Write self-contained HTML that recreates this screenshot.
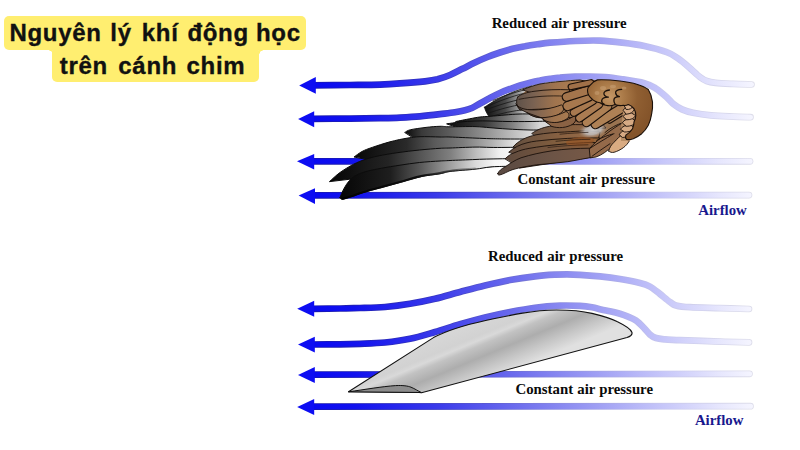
<!DOCTYPE html>
<html>
<head>
<meta charset="utf-8">
<style>
html,body{margin:0;padding:0;background:#fff;}
body{width:800px;height:450px;overflow:hidden;position:relative;font-family:"Liberation Sans",sans-serif;}
svg{position:absolute;left:0;top:0;}
.ybox{position:absolute;background:#ffee70;border-radius:5px;}
.ic{position:absolute;width:3.5px;height:3.5px;}
.w{position:absolute;letter-spacing:0.7px;-webkit-text-stroke:0.35px #111;font-family:"Liberation Sans",sans-serif;font-weight:bold;font-size:24px;line-height:24px;color:#111;white-space:nowrap;}
.lbl{position:absolute;font-family:"Liberation Serif",serif;font-weight:bold;font-size:14.8px;line-height:15px;color:#0a0a0a;white-space:nowrap;word-spacing:0.5px;}
.af{color:#18188e;}
</style>
</head>
<body>
<!-- title boxes -->
<div class="ybox" style="left:4px;top:16px;width:302px;height:34px;"></div>
<div class="ybox" style="left:52px;top:46px;width:207px;height:36px;"></div>
<div class="ic" style="left:48.5px;top:50px;background:radial-gradient(circle at 0 100%,rgba(255,238,112,0) 3.2px,#ffee70 3.8px);"></div>
<div class="ic" style="left:259px;top:50px;background:radial-gradient(circle at 100% 100%,rgba(255,238,112,0) 3.2px,#ffee70 3.8px);"></div>
<span class="w" style="left:9.4px;top:20.8px;">Nguyên</span>
<span class="w" style="left:110.3px;top:20.8px;">lý</span>
<span class="w" style="left:141.8px;top:20.8px;">khí</span>
<span class="w" style="left:187.4px;top:20.8px;">động</span>
<span class="w" style="left:256px;top:20.8px;">học</span>
<span class="w" style="left:59.7px;top:53.5px;">trên</span>
<span class="w" style="left:118.3px;top:53.5px;">cánh</span>
<span class="w" style="left:186.5px;top:53.5px;">chim</span>

<svg width="800" height="450" viewBox="0 0 800 450">
<defs>
<linearGradient id="flow" gradientUnits="userSpaceOnUse" x1="300" y1="0" x2="755" y2="0">
<stop offset="0" stop-color="#0606f2"/>
<stop offset="0.12" stop-color="#1212ee"/>
<stop offset="0.3" stop-color="#3a3aea"/>
<stop offset="0.5" stop-color="#7474ee"/>
<stop offset="0.75" stop-color="#babaf8"/>
<stop offset="0.92" stop-color="#e6e6fd"/>
<stop offset="1" stop-color="#f6f6ff"/>
</linearGradient>
<linearGradient id="flowEdge" gradientUnits="userSpaceOnUse" x1="300" y1="0" x2="755" y2="0">
<stop offset="0" stop-color="#1414a8"/>
<stop offset="0.3" stop-color="#3636c0"/>
<stop offset="0.55" stop-color="#8686dc"/>
<stop offset="0.8" stop-color="#c8c8ee"/>
<stop offset="1" stop-color="#dedeea"/>
</linearGradient>
<linearGradient id="foil" gradientUnits="userSpaceOnUse" x1="470" y1="318" x2="495" y2="378">
<stop offset="0" stop-color="#d8d8d8"/>
<stop offset="0.3" stop-color="#d2d2d2"/>
<stop offset="0.37" stop-color="#d9d9d9"/>
<stop offset="0.45" stop-color="#c2c2c2"/>
<stop offset="0.62" stop-color="#adadad"/>
<stop offset="0.8" stop-color="#c6c6c6"/>
<stop offset="1" stop-color="#e0e0e0"/>
</linearGradient>
<!--WDEFS-START-->
<linearGradient id="gA" gradientUnits="userSpaceOnUse" x1="340" y1="0" x2="520" y2="0">
<stop offset="0" stop-color="#060606"/><stop offset="0.28" stop-color="#1e1e1e"/><stop offset="0.44" stop-color="#565656"/><stop offset="0.6" stop-color="#9a9a9a"/><stop offset="0.75" stop-color="#d8d8d8"/><stop offset="0.86" stop-color="#f6f6f6"/><stop offset="1" stop-color="#ffffff"/>
</linearGradient>
<linearGradient id="gB" gradientUnits="userSpaceOnUse" x1="330" y1="0" x2="525" y2="0">
<stop offset="0" stop-color="#050505"/><stop offset="0.3" stop-color="#242424"/><stop offset="0.46" stop-color="#545454"/><stop offset="0.62" stop-color="#808080"/><stop offset="0.75" stop-color="#bdbdbd"/><stop offset="0.87" stop-color="#f0f0f0"/><stop offset="1" stop-color="#ffffff"/>
</linearGradient>
<linearGradient id="gC" gradientUnits="userSpaceOnUse" x1="354" y1="0" x2="530" y2="0">
<stop offset="0" stop-color="#070707"/><stop offset="0.3" stop-color="#2a2a2a"/><stop offset="0.45" stop-color="#585858"/><stop offset="0.62" stop-color="#7c7c7c"/><stop offset="0.78" stop-color="#b0b0b0"/><stop offset="0.92" stop-color="#e6e6e6"/><stop offset="1" stop-color="#f8f8f8"/>
</linearGradient>
<linearGradient id="gD" gradientUnits="userSpaceOnUse" x1="405" y1="0" x2="545" y2="0">
<stop offset="0" stop-color="#0a0a0a"/><stop offset="0.12" stop-color="#3a3a3a"/><stop offset="0.3" stop-color="#585858"/><stop offset="0.55" stop-color="#8c8c8c"/><stop offset="0.8" stop-color="#c4c4c4"/><stop offset="1" stop-color="#f0f0f0"/>
</linearGradient>
<linearGradient id="gE" gradientUnits="userSpaceOnUse" x1="447" y1="0" x2="540" y2="0">
<stop offset="0" stop-color="#0a0a0a"/><stop offset="0.4" stop-color="#3a3a3a"/><stop offset="0.7" stop-color="#808080"/><stop offset="1" stop-color="#d8d8d8"/>
</linearGradient>
<linearGradient id="gU" gradientUnits="userSpaceOnUse" x1="485" y1="0" x2="530" y2="0">
<stop offset="0" stop-color="#101010"/><stop offset="0.45" stop-color="#484848"/><stop offset="0.75" stop-color="#9a9a9a"/><stop offset="1" stop-color="#ececec"/>
</linearGradient>
<linearGradient id="gS1" gradientUnits="userSpaceOnUse" x1="498" y1="0" x2="604" y2="0">
<stop offset="0" stop-color="#5a4a42"/><stop offset="0.5" stop-color="#6c5446"/><stop offset="1" stop-color="#7a5a46"/>
</linearGradient>
<linearGradient id="gS2" gradientUnits="userSpaceOnUse" x1="505" y1="0" x2="612" y2="0">
<stop offset="0" stop-color="#5e4a3e"/><stop offset="0.5" stop-color="#7a583e"/><stop offset="1" stop-color="#8c5c38"/>
</linearGradient>
<linearGradient id="gS3" gradientUnits="userSpaceOnUse" x1="511" y1="0" x2="612" y2="0">
<stop offset="0" stop-color="#624c3e"/><stop offset="0.5" stop-color="#85603e"/><stop offset="1" stop-color="#9a6536"/>
</linearGradient>
<linearGradient id="gS4" gradientUnits="userSpaceOnUse" x1="515" y1="0" x2="612" y2="0">
<stop offset="0" stop-color="#65503f"/><stop offset="0.5" stop-color="#8a6242"/><stop offset="1" stop-color="#a0724c"/>
</linearGradient>
<linearGradient id="gS5" gradientUnits="userSpaceOnUse" x1="531" y1="0" x2="612" y2="0">
<stop offset="0" stop-color="#6a5444"/><stop offset="0.5" stop-color="#876040"/><stop offset="1" stop-color="#9a7050"/>
</linearGradient>
<linearGradient id="gC1" gradientUnits="userSpaceOnUse" x1="515" y1="0" x2="568" y2="0">
<stop offset="0" stop-color="#5c5048"/><stop offset="0.35" stop-color="#7a6252"/><stop offset="0.75" stop-color="#a0744e"/><stop offset="1" stop-color="#a87a50"/>
</linearGradient>
<radialGradient id="gSh" gradientUnits="userSpaceOnUse" cx="610" cy="97" r="44">
<stop offset="0" stop-color="#c59766"/><stop offset="0.3" stop-color="#ab7b49"/><stop offset="0.62" stop-color="#905f32"/><stop offset="1" stop-color="#84542a"/>
</radialGradient>
<linearGradient id="gEdge" gradientUnits="userSpaceOnUse" x1="340" y1="0" x2="480" y2="0">
<stop offset="0" stop-color="#000"/><stop offset="0.6" stop-color="#111"/><stop offset="1" stop-color="#444" stop-opacity="0.3"/>
</linearGradient>
<radialGradient id="gPatch" cx="0.5" cy="0.5" r="0.5">
<stop offset="0" stop-color="#d0d0d2" stop-opacity="0.95"/><stop offset="0.55" stop-color="#c0bebe" stop-opacity="0.85"/><stop offset="1" stop-color="#a08876" stop-opacity="0"/>
</radialGradient>
<!--WDEFS-END-->
</defs>
<!-- TOP DIAGRAM LINES -->
<g fill="none" stroke="url(#flowEdge)" stroke-width="6.7" stroke-linecap="round">
<path id="t1" d="M312.0,85.3 C318.3,85.2 338.7,85.1 350.0,85.0 C361.3,84.9 371.7,84.9 380.0,84.6 C388.3,84.3 392.5,84.0 400.0,83.4 C407.5,82.9 418.8,82.0 425.0,81.3 C431.2,80.6 433.3,80.3 437.5,79.3 C441.7,78.2 445.8,76.8 450.0,75.0 C454.2,73.2 458.3,70.9 462.5,68.8 C466.7,66.7 470.8,64.5 475.0,62.5 C479.2,60.5 483.3,58.7 487.5,57.0 C491.7,55.3 495.8,53.9 500.0,52.5 C504.2,51.1 508.3,49.8 512.5,48.8 C516.7,47.8 520.8,47.0 525.0,46.3 C529.2,45.5 533.3,44.9 537.5,44.3 C541.7,43.7 543.8,43.2 550.0,42.7 C556.2,42.2 566.7,41.4 575.0,41.0 C583.3,40.6 592.2,40.3 600.0,40.6 C607.8,40.9 614.6,41.7 622.0,42.6 C629.4,43.5 636.9,44.4 644.4,46.0 C651.9,47.6 661.1,50.1 666.7,52.1 C672.3,54.1 674.1,55.8 677.8,58.3 C681.5,60.8 685.2,64.0 688.9,67.2 C692.6,70.4 697.0,74.9 700.0,77.2 C703.0,79.5 704.1,80.1 706.7,81.0 C709.3,81.9 711.2,82.3 715.6,82.8 C720.0,83.3 727.0,83.6 733.0,83.9 C739.0,84.2 748.4,84.4 751.5,84.5"/>
<path id="t2" d="M312.0,118.8 C318.3,118.8 338.7,118.7 350.0,118.6 C361.3,118.5 371.7,118.4 380.0,118.2 C388.3,118.0 393.3,117.9 400.0,117.6 C406.7,117.3 413.3,117.0 420.0,116.4 C426.7,115.8 434.2,114.9 440.0,114.2 C445.8,113.5 450.8,113.0 455.0,112.3 C459.2,111.6 462.2,111.0 465.0,110.3 C467.8,109.6 469.5,109.1 472.0,108.0 C474.5,106.9 477.0,105.2 480.0,103.5 C483.0,101.8 486.7,99.8 490.0,98.0 C493.3,96.2 496.7,94.5 500.0,93.0 C503.3,91.5 506.7,90.2 510.0,89.0 C513.3,87.8 516.7,86.5 520.0,85.5 C523.3,84.5 526.7,83.5 530.0,82.7 C533.3,81.9 536.7,81.2 540.0,80.6 C543.3,79.9 546.7,79.3 550.0,78.8 C553.3,78.3 555.8,77.9 560.0,77.6 C564.2,77.2 570.0,76.9 575.0,76.7 C580.0,76.5 585.0,76.5 590.0,76.5 C595.0,76.5 599.7,76.5 605.0,77.0 C610.3,77.5 615.4,78.2 622.0,79.2 C628.6,80.2 638.8,81.7 644.4,83.2 C650.0,84.7 651.9,86.0 655.6,88.3 C659.3,90.6 663.8,94.6 666.7,97.2 C669.7,99.8 670.8,101.9 673.3,103.9 C675.8,105.9 678.7,107.9 682.0,109.4 C685.3,110.9 688.2,111.8 693.0,112.8 C697.8,113.8 704.3,114.8 711.0,115.4 C717.7,116.0 726.4,116.3 733.0,116.6 C739.6,116.9 747.6,117.1 750.5,117.2"/>
<path id="t3" d="M312.0,161.3 L750.0,161.3"/>
<path id="t4" d="M312.0,195.3 L749.0,195.1"/>
</g>
<g fill="none" stroke="url(#flow)" stroke-width="5.1" stroke-linecap="round">
<path d="M312.0,85.3 C318.3,85.2 338.7,85.1 350.0,85.0 C361.3,84.9 371.7,84.9 380.0,84.6 C388.3,84.3 392.5,84.0 400.0,83.4 C407.5,82.9 418.8,82.0 425.0,81.3 C431.2,80.6 433.3,80.3 437.5,79.3 C441.7,78.2 445.8,76.8 450.0,75.0 C454.2,73.2 458.3,70.9 462.5,68.8 C466.7,66.7 470.8,64.5 475.0,62.5 C479.2,60.5 483.3,58.7 487.5,57.0 C491.7,55.3 495.8,53.9 500.0,52.5 C504.2,51.1 508.3,49.8 512.5,48.8 C516.7,47.8 520.8,47.0 525.0,46.3 C529.2,45.5 533.3,44.9 537.5,44.3 C541.7,43.7 543.8,43.2 550.0,42.7 C556.2,42.2 566.7,41.4 575.0,41.0 C583.3,40.6 592.2,40.3 600.0,40.6 C607.8,40.9 614.6,41.7 622.0,42.6 C629.4,43.5 636.9,44.4 644.4,46.0 C651.9,47.6 661.1,50.1 666.7,52.1 C672.3,54.1 674.1,55.8 677.8,58.3 C681.5,60.8 685.2,64.0 688.9,67.2 C692.6,70.4 697.0,74.9 700.0,77.2 C703.0,79.5 704.1,80.1 706.7,81.0 C709.3,81.9 711.2,82.3 715.6,82.8 C720.0,83.3 727.0,83.6 733.0,83.9 C739.0,84.2 748.4,84.4 751.5,84.5"/>
<path d="M312.0,118.8 C318.3,118.8 338.7,118.7 350.0,118.6 C361.3,118.5 371.7,118.4 380.0,118.2 C388.3,118.0 393.3,117.9 400.0,117.6 C406.7,117.3 413.3,117.0 420.0,116.4 C426.7,115.8 434.2,114.9 440.0,114.2 C445.8,113.5 450.8,113.0 455.0,112.3 C459.2,111.6 462.2,111.0 465.0,110.3 C467.8,109.6 469.5,109.1 472.0,108.0 C474.5,106.9 477.0,105.2 480.0,103.5 C483.0,101.8 486.7,99.8 490.0,98.0 C493.3,96.2 496.7,94.5 500.0,93.0 C503.3,91.5 506.7,90.2 510.0,89.0 C513.3,87.8 516.7,86.5 520.0,85.5 C523.3,84.5 526.7,83.5 530.0,82.7 C533.3,81.9 536.7,81.2 540.0,80.6 C543.3,79.9 546.7,79.3 550.0,78.8 C553.3,78.3 555.8,77.9 560.0,77.6 C564.2,77.2 570.0,76.9 575.0,76.7 C580.0,76.5 585.0,76.5 590.0,76.5 C595.0,76.5 599.7,76.5 605.0,77.0 C610.3,77.5 615.4,78.2 622.0,79.2 C628.6,80.2 638.8,81.7 644.4,83.2 C650.0,84.7 651.9,86.0 655.6,88.3 C659.3,90.6 663.8,94.6 666.7,97.2 C669.7,99.8 670.8,101.9 673.3,103.9 C675.8,105.9 678.7,107.9 682.0,109.4 C685.3,110.9 688.2,111.8 693.0,112.8 C697.8,113.8 704.3,114.8 711.0,115.4 C717.7,116.0 726.4,116.3 733.0,116.6 C739.6,116.9 747.6,117.1 750.5,117.2"/>
<path d="M312.0,161.3 L750.0,161.3"/>
<path d="M312.0,195.3 L749.0,195.1"/>
</g>
<g fill="#0d0df2">
<path d="M299.2,85.4 L315.8,77 L315.8,93.8 Z"/>
<path d="M298.1,119 L314.2,111.2 L314.2,127.2 Z"/>
<path d="M297,161.3 L314.2,153.9 L314.2,169.6 Z"/>
<path d="M298.6,195.5 L315,188.3 L315,204 Z"/>
</g>

<!--WING-START-->
<!-- BIRD WING -->
<g id="wing" stroke-linejoin="round" stroke-linecap="round">
<!-- small upper gray feathers -->
<g stroke="#151515" stroke-width="0.8">
<path d="M484.5,107.2 C489,104 495,100.5 500,98 C507,94.5 514,91.5 520,89.6 C524,88.3 528,87 532,86 L545,100 L530,122 L490,118 C487,114 485,110 484.5,107.2 Z" fill="url(#gU)"/>
<path d="M487,109.5 C497,105.5 510,101.5 524,98.5" fill="none"/>
<path d="M488.5,113 C499,109.5 511,106 524,104" fill="none"/>
<path d="M491,116.5 C501,113.5 513,110.5 526,109.5" fill="none"/>
<path d="M489.5,105.5 C499,101 510,97 525,93" fill="none"/>
<path d="M493,100.5 C502,96.5 512,93 526,89.5" fill="none"/>
</g>
<!-- primary feathers: E F D C B A -->
<g stroke="#0c0c0c" stroke-width="1">
<path d="M456.0,121.5 C458.3,121.0 465.7,119.5 469.7,118.8 C473.7,118.0 476.6,117.4 480.0,117.0 C483.4,116.6 485.8,116.6 490.0,116.3 C494.2,116.0 500.0,115.4 505.0,115.0 C510.0,114.6 514.2,114.2 520.0,114.0 C525.8,113.8 536.7,114.0 540.0,114.0 L548,118 L548,128 L470,128 Z" fill="url(#gE)"/>
<path d="M447.0,123.8 C449.2,123.5 455.3,122.5 460.0,122.0 C464.7,121.5 470.0,121.2 475.0,121.0 C480.0,120.8 484.7,120.9 490.0,121.0 C495.3,121.1 500.3,121.4 507.0,121.5 C513.7,121.6 522.5,121.6 530.0,121.5 C537.5,121.4 548.3,121.1 552.0,121.0 L552,130 L470,132 Z" fill="url(#gE)"/>
<path d="M405.0,132.3 C405.9,131.9 407.1,130.5 410.6,129.7 C414.1,128.9 421.1,128.0 426.0,127.4 C430.9,126.8 436.0,126.4 440.0,126.3 C444.0,126.2 444.2,126.8 450.0,126.8 C455.8,126.8 468.3,126.4 475.0,126.6 C481.7,126.8 484.7,127.3 490.0,127.7 C495.3,128.1 500.3,128.6 507.0,129.0 C513.7,129.4 521.8,129.8 530.0,130.0 C538.2,130.2 551.7,130.0 556.0,130.0 L556,142 L420,142 Z" fill="url(#gD)"/>
<path d="M354.3,156.8 C355.6,155.9 359.0,153.1 362.0,151.5 C365.0,149.9 367.5,149.0 372.2,147.4 C376.9,145.8 384.0,143.4 390.0,141.8 C396.0,140.2 403.0,138.8 408.0,138.0 C413.0,137.2 414.7,136.9 420.0,136.7 C425.3,136.5 435.0,136.9 440.0,137.0 C445.0,137.1 444.2,136.8 450.0,137.0 C455.8,137.2 468.3,137.8 475.0,138.1 C481.7,138.4 484.7,138.5 490.0,138.7 C495.3,138.8 498.7,138.9 507.0,139.0 C515.3,139.1 534.5,139.0 540.0,139.0 L545,152 L370,160 Z" fill="url(#gC)"/>
<path d="M329.7,181.4 C331.4,179.9 336.1,175.3 340.0,172.5 C343.9,169.7 349.1,166.6 353.3,164.4 C357.5,162.2 360.9,160.9 365.0,159.5 C369.1,158.1 372.5,157.2 378.0,156.0 C383.5,154.8 391.1,153.6 398.0,152.6 C404.9,151.6 412.5,150.7 419.5,150.0 C426.5,149.3 434.9,148.6 440.0,148.3 C445.1,148.0 444.2,148.2 450.0,148.0 C455.8,147.8 468.3,147.2 475.0,147.1 C481.7,147.0 484.7,147.3 490.0,147.4 C495.3,147.5 499.5,147.5 507.0,147.4 C514.5,147.3 530.3,147.1 535.0,147.0 L545,162 L360,178 Z" fill="url(#gB)"/>
<path d="M340.0,197.6 C340.7,196.1 342.4,191.3 344.0,188.5 C345.6,185.7 347.3,182.8 349.5,180.5 C351.7,178.2 353.9,176.4 357.0,174.8 C360.1,173.2 363.9,172.1 368.0,171.0 C372.1,169.9 376.4,169.2 381.7,168.2 C387.0,167.2 393.7,166.1 400.0,165.2 C406.3,164.2 412.8,163.2 419.5,162.5 C426.2,161.8 434.9,161.3 440.0,161.0 C445.1,160.7 444.2,160.8 450.0,160.5 C455.8,160.2 468.3,159.8 475.0,159.5 C481.7,159.2 484.7,159.1 490.0,159.0 C495.3,158.9 500.3,158.8 507.0,158.7 C513.7,158.6 526.2,158.5 530.0,158.5 L520,166 L507,166.3 C504.2,166.4 495.3,166.5 490.0,167.0 C484.7,167.5 481.7,168.5 475.0,169.2 C468.3,169.9 455.8,170.7 450.0,171.4 C444.2,172.2 445.0,172.8 440.0,173.7 C435.0,174.6 426.6,175.4 420.0,176.8 C413.4,178.2 407.1,180.5 400.6,182.3 C394.1,184.1 387.3,185.9 381.0,187.6 C374.7,189.3 367.6,191.2 362.8,192.7 C358.0,194.2 355.4,195.4 352.0,196.5 C348.6,197.6 344.5,199.1 342.5,199.3 C340.5,199.5 340.4,197.9 340.0,197.6 Z" fill="url(#gA)"/>
<path d="M342.5,198.7 C344.1,198.2 348.6,197.1 352.0,196.0 C355.4,194.9 358.0,193.7 362.8,192.2 C367.6,190.7 374.7,188.8 381.0,187.1 C387.3,185.4 394.1,183.6 400.6,181.8 C407.1,180.0 413.4,177.7 420.0,176.3 C426.6,174.9 435.0,174.1 440.0,173.2 C445.0,172.3 444.2,171.8 450.0,171.0 C455.8,170.2 470.8,169.1 475.0,168.7" fill="none" stroke="url(#gEdge)" stroke-width="2.2"/>
</g>
</g>
<!-- BROWN PARTS -->
<g id="brown" stroke-linejoin="round" stroke-linecap="round">
<!-- base fill behind coverts -->
<path d="M530,87 C542,83.5 556,82 569,81 C580,80.3 590,80 598,80 L636,100 L626,134 L606,134 L590,148 L575,150 L552,126 L545,117 L530,112 L520,104 L520,96 Z" fill="#9a7350" stroke="none"/>
<!-- secondaries S6..S1 -->
<g stroke="#1a100a" stroke-width="0.9">
<path d="M549.8,122.7 C553,119.5 558,117.8 563,117.5 C575,117 588,118 600,121 L606,128 L560,132 Z" fill="#8f684a"/>
<path d="M532,133.3 C538,129 545,126.8 552,126 C560,125 568,124.6 575.6,124.6 C585,124.6 592,125 598,126 L598,140 L545,142 Z" fill="url(#gS5)"/>
<path d="M513.3,146.7 C518,141 526,137 536,134.8 C546,133 555,132.4 564.7,132 C572,131.6 580,131 586.5,130.7 L600,132 L596,150 L530,150 Z" fill="url(#gS4)"/>
<path d="M509,152 C514,147.5 520,144.5 527,142.8 C530,142 533,141.4 536.7,141 C547,139.8 557,139 567.8,138.4 C575,138 583,137.8 589,137.8 L600,138 L594,155 L525,158 Z" fill="url(#gS3)"/>
<path d="M505.3,158.6 C509,155 512,153.5 515,152.5 C520,150.3 524,149.3 529,148.4 C539,146.6 549,145.4 560,144.4 C570,143.5 580,142.8 592.4,142.3 L598,143 L592,157 L520,168 Z" fill="url(#gS2)"/>
<path d="M497.8,173.4 C499,170.5 502,168.5 505,167 C510,163.5 515,160 521,157.8 C531,154.6 541,152.5 552,150.8 C564,149 577,148.3 590,148.2 L595,150 L591,157.5 C585,158.5 576,160.3 567.8,161.7 C557,163 547,163.8 536.7,164.8 C528,166 520,167.5 513,169.5 C508,171 503,174.5 499.5,175 C498,175 497.5,174.3 497.8,173.4 Z" fill="url(#gS1)"/>
</g>
<!-- warm patch + light patch -->
<ellipse cx="580" cy="141.5" rx="14" ry="4.5" fill="#9a5524" opacity="0.6" transform="rotate(-6 580 141.5)"/>
<!-- lower right tan/brown feathers -->
<ellipse cx="593" cy="130" rx="15" ry="8" fill="url(#gPatch)" transform="rotate(-12 593 130)"/>
<g stroke="#1a100a" stroke-width="0.9">
<path d="M589.5,148.6 C594,143 600,138.5 606,134 C611,130 617,126 623,122.6 L628,126 L626,134 C622,138 616,142 612,146 C608,150.5 602,155 596,157 L590.5,157.8 Z" fill="#946a4a"/>
<path d="M590,148.3 C598,143 606,138.5 612.7,134.3" fill="none"/>
<path d="M592,156.3 C598,152 604,147.5 610,143.7" fill="none"/>
<path d="M596.7,140.3 C602,137.5 608,135 614,133.7" fill="none"/>
<path d="M605,132.5 C610,128 617,124.5 623,122.6" fill="none"/>
<path d="M608.7,151 C609.5,147.5 611.5,144.5 614,142.3 C617,139 620,136 623.3,133.7 C625,132.7 627,132.2 628.7,132.3 C629.6,135 629.7,138 629.3,141 C627.7,143.7 625.7,146 623.3,147.7 C620.5,149.7 617.5,151.3 614,152.3 C612,152.7 610,152.4 608.7,151 Z" fill="#d9ab82"/>
</g>
<!-- coverts tier 1 : alpha beta gamma delta -->
<g stroke="#1a100a" stroke-width="0.9">
<path d="M523,89.6 C529,87 535,85.2 540,84 C547,82.8 554,82 560,81.5 C567,80.8 574,80.3 580,80 L590,82 L576,92 L540,96 Z" fill="url(#gC1)"/>
<path d="M517.8,96.9 C521,94 527,92.3 534,91.3 C546,89.6 558,89.3 569.3,89.8 L572,98 L566,108 L520,110 C516.5,106.5 515.5,101 517.8,96.9 Z" fill="url(#gC1)"/>
<path d="M516,104 C518,107.5 523,109.3 530,109.8 C541,110.3 552,108.5 561.3,104.9 C564,106 564.5,109 562.5,111.5 C558,116 550,118 542,118 C536,117.8 531,115.8 527.6,112.9 C523,111 518,108 516,104 Z" fill="url(#gC1)"/>
<path d="M527.6,113.1 C532,116.5 538,118 545,117.5 C553,116.8 560,114.5 566,111.5 C569,112.5 570,115.5 568,118 C563,122 555,123.8 549,123.3 C546,122.8 544,120.8 542.7,118.5 Z" fill="url(#gC1)"/>
<path d="M543,119.5 C548,122.8 555,123.3 562,121.5 C567,120 571,118 575,115.5 C577,118 576,121.5 573,124 C567,128 558,128.5 552,126.5 Z" fill="#8a6244"/>
</g>
<g fill="none" stroke="#1a100a" stroke-width="0.8" stroke-linecap="round">
<path d="M519,99.3 C534,96.3 550,95.3 565,96.2"/>
<path d="M560,134.2 C570,133.2 580,132.6 588,132.4" opacity="0.8"/>
<path d="M556,141.3 C566,140.2 578,139.5 590,139.3" opacity="0.8"/>
<path d="M548,147.5 C560,146 574,145 588,144.8" opacity="0.7"/>
</g>
<!-- coverts tier 2 lobes -->
<g fill="none" stroke-linecap="round">
<path d="M609.5,120.3 L626.5,109.8" stroke="#1a100a" stroke-width="6.9"/><path d="M609.5,120.3 L626.5,109.8" stroke="#a87a52" stroke-width="4.6"/>
<path d="M595.5,124.2 L622.0,108.2" stroke="#1a100a" stroke-width="10.3"/><path d="M595.5,124.2 L622.0,108.2" stroke="#af8155" stroke-width="8.0"/>
<path d="M586.5,122.4 L607.5,106.5" stroke="#1a100a" stroke-width="9.7"/><path d="M586.5,122.4 L607.5,106.5" stroke="#ae8054" stroke-width="7.4"/>
<path d="M579.5,118.2 L599.0,104.3" stroke="#1a100a" stroke-width="8.8"/><path d="M579.5,118.2 L599.0,104.3" stroke="#ab7c52" stroke-width="6.5"/>
<path d="M573.8,112.6 L593.0,101.0" stroke="#1a100a" stroke-width="8.4"/><path d="M573.8,112.6 L593.0,101.0" stroke="#a8794f" stroke-width="6.1"/>
<path d="M567.5,106.2 L589.0,96.5" stroke="#1a100a" stroke-width="10.2"/><path d="M567.5,106.2 L589.0,96.5" stroke="#a7784e" stroke-width="7.9"/>
<path d="M566.5,97.0 L588.0,90.4" stroke="#1a100a" stroke-width="9.7"/><path d="M566.5,97.0 L588.0,90.4" stroke="#a4754c" stroke-width="7.4"/>
<path d="M571.0,86.8 L591.0,82.6" stroke="#1a100a" stroke-width="6.9"/><path d="M571.0,86.8 L591.0,82.6" stroke="#a07048" stroke-width="4.6"/>
</g>
<path id="alula-base" d="M624,104 L638,104 L638,126 L630,141 L621,141 L621,128 Z" fill="#b88e66"/>
<!-- alula scallops -->
<g stroke="#1a100a" stroke-width="0.9" fill="#d6aa84">
<path d="M619.3,134.5 C620.5,131.8 623.5,130.3 627,130.2 L630.5,132.5 C629.5,135.5 626.5,137.3 623,137.5 Z"/>
<path d="M620.7,129 C622,126.3 626,125 630.5,125 L634.5,127.8 C633.5,130.5 629.5,132 625,132 Z"/>
<path d="M622.5,122.5 C624,119.8 628,118.3 632,118.4 L636,121.5 C635,124.5 631,126.3 626.5,126.3 Z"/>
<path d="M623.3,116.3 C624.5,113.8 628,112.8 631.5,113 L635.5,115.5 C634.5,118.3 631,119.8 627,119.8 Z"/>
<path d="M623.3,110 C624.5,107.5 627.5,106.3 630.5,106.4 L634.5,109 C633.5,112 630.5,114 626.5,114.2 Z"/>
<path d="M624.5,105.5 C626,104 628,103.5 630,103.8 L633,106 C632,108.5 629.5,109.8 626.5,109.5 Z"/>
</g>
<!-- shoulder patch -->
<path d="M597.5,79.9 C605,79.6 613,80.2 620,81 C626,81.8 632,82.8 636.7,84.2 C641,85.5 645.5,87.3 648.3,89.5 C650.5,93 652,97.5 652.5,102 C652.8,106 652.4,110 651.7,113.7 C651,118 650,122 648.3,125.3 C646.5,128.6 644.3,131.5 641.7,133.7 C639,135.8 636.3,137.5 633.3,138.7 C631,139.5 628.5,139.8 626.7,139.5 C625.5,138.3 625.3,136.5 625.8,135.3 C628.5,133.5 631,131.3 632.5,128.7 C633.5,126.5 634,124.3 634,122 C635,120 635.8,117.8 635.8,115.3 C635.8,113 635.2,110.6 634,108.7 C632.5,106.8 630.5,105.3 628.3,104.5 C626.5,105.5 625,105.6 623.3,105.3 C620.5,106 617.5,105.5 615,104.5 C612,106 608.5,106 605.8,105.3 C603.5,105 601.5,104 600,102.8 C596.5,102.3 593.5,100.8 591.7,98.7 C589,96.5 587.5,93.5 587.5,90.3 C587.5,88.3 588.5,86.5 590,85.3 C592,82.6 594.5,80.8 597.5,79.9 Z" fill="url(#gSh)" stroke="#1a100a" stroke-width="1.1"/>
<g fill="#d9b58c" opacity="0.35">
<ellipse cx="603" cy="88" rx="3" ry="2"/><ellipse cx="613" cy="86.5" rx="3" ry="1.8"/><ellipse cx="597" cy="93" rx="2.5" ry="2"/><ellipse cx="624" cy="88" rx="2.5" ry="1.6"/>
</g>
<!-- scallop marks on shoulder -->
<g fill="none" stroke="#1a100a" stroke-width="1.3">
<path d="M609.4,90 C606,90.3 603.6,91.8 603.9,93.8 C604.2,95.8 606.5,96.8 608.3,97.2 M608.3,97.2 C605,97.2 602,98.5 601.7,100.6 C601.5,102.2 602.5,103.5 604,104.2"/>
<path d="M621.7,89.4 C618,89.6 615.3,90.8 615.6,92.8 C615.9,95 617.8,96.2 619.4,96.7 M619.4,96.7 C616.5,96.7 614,98 613.9,100 C613.8,101.8 614.3,103 615,103.9"/>
</g>
</g>
<!--WING-END-->
<!-- BOTTOM DIAGRAM LINES -->
<g fill="none" stroke="url(#flowEdge)" stroke-width="6.7" stroke-linecap="round">
<path id="b1" d="M312.0,308.8 C316.7,308.8 332.0,308.6 340.0,308.5 C348.0,308.4 352.5,308.2 360.0,308.0 C367.5,307.8 376.7,307.7 385.0,307.0 C393.3,306.3 401.7,305.2 410.0,303.8 C418.3,302.4 426.7,300.8 435.0,298.8 C443.3,296.8 451.7,294.2 460.0,292.0 C468.3,289.8 476.7,287.5 485.0,285.5 C493.3,283.5 501.7,281.5 510.0,280.0 C518.3,278.5 527.5,277.2 535.0,276.3 C542.5,275.4 549.7,275.0 555.0,274.7 C560.3,274.4 562.8,274.4 567.0,274.4 C571.2,274.4 574.5,274.5 580.0,274.8 C585.5,275.1 593.3,275.7 600.0,276.4 C606.7,277.1 613.3,277.9 620.0,279.0 C626.7,280.1 635.0,281.7 640.0,283.0 C645.0,284.3 646.7,284.8 650.0,286.6 C653.3,288.4 656.7,291.4 660.0,294.0 C663.3,296.6 667.3,300.1 670.0,302.0 C672.7,303.9 672.7,304.5 676.0,305.4 C679.3,306.3 682.7,306.8 690.0,307.2 C697.3,307.6 710.2,307.8 720.0,308.1 C729.8,308.4 744.2,308.9 749.0,309.0"/>
<path id="b2" d="M312.0,344.5 C316.7,344.5 332.0,344.4 340.0,344.3 C348.0,344.2 352.5,344.1 360.0,343.8 C367.5,343.5 376.7,343.3 385.0,342.5 C393.3,341.7 401.7,340.6 410.0,338.8 C418.3,337.1 426.7,334.4 435.0,332.0 C443.3,329.6 451.7,326.7 460.0,324.3 C468.3,321.9 476.7,319.6 485.0,317.5 C493.3,315.4 501.7,313.6 510.0,312.0 C518.3,310.4 526.7,308.8 535.0,307.7 C543.3,306.6 552.5,305.9 560.0,305.6 C567.5,305.3 574.7,305.6 580.0,305.9 C585.3,306.2 588.5,306.7 592.0,307.3 C595.5,307.9 598.0,308.7 601.0,309.4 C604.0,310.1 606.8,310.6 610.0,311.3 C613.2,312.0 617.0,312.9 620.0,313.8 C623.0,314.7 625.3,315.5 628.0,316.6 C630.7,317.7 633.3,318.6 636.0,320.5 C638.7,322.4 641.7,325.6 644.0,328.0 C646.3,330.4 648.0,332.9 650.0,334.6 C652.0,336.3 653.5,337.2 656.0,338.0 C658.5,338.8 661.0,339.0 665.0,339.4 C669.0,339.8 670.8,339.7 680.0,340.1 C689.2,340.5 708.5,341.2 720.0,341.6 C731.5,342.0 744.2,342.3 749.0,342.4"/>
<path id="b3" d="M312.0,374.6 L749.5,373.8"/>
<path id="b4" d="M312.0,406.6 L750.5,406.2"/>
</g>
<g fill="none" stroke="url(#flow)" stroke-width="5.1" stroke-linecap="round">
<path d="M312.0,308.8 C316.7,308.8 332.0,308.6 340.0,308.5 C348.0,308.4 352.5,308.2 360.0,308.0 C367.5,307.8 376.7,307.7 385.0,307.0 C393.3,306.3 401.7,305.2 410.0,303.8 C418.3,302.4 426.7,300.8 435.0,298.8 C443.3,296.8 451.7,294.2 460.0,292.0 C468.3,289.8 476.7,287.5 485.0,285.5 C493.3,283.5 501.7,281.5 510.0,280.0 C518.3,278.5 527.5,277.2 535.0,276.3 C542.5,275.4 549.7,275.0 555.0,274.7 C560.3,274.4 562.8,274.4 567.0,274.4 C571.2,274.4 574.5,274.5 580.0,274.8 C585.5,275.1 593.3,275.7 600.0,276.4 C606.7,277.1 613.3,277.9 620.0,279.0 C626.7,280.1 635.0,281.7 640.0,283.0 C645.0,284.3 646.7,284.8 650.0,286.6 C653.3,288.4 656.7,291.4 660.0,294.0 C663.3,296.6 667.3,300.1 670.0,302.0 C672.7,303.9 672.7,304.5 676.0,305.4 C679.3,306.3 682.7,306.8 690.0,307.2 C697.3,307.6 710.2,307.8 720.0,308.1 C729.8,308.4 744.2,308.9 749.0,309.0"/>
<path d="M312.0,344.5 C316.7,344.5 332.0,344.4 340.0,344.3 C348.0,344.2 352.5,344.1 360.0,343.8 C367.5,343.5 376.7,343.3 385.0,342.5 C393.3,341.7 401.7,340.6 410.0,338.8 C418.3,337.1 426.7,334.4 435.0,332.0 C443.3,329.6 451.7,326.7 460.0,324.3 C468.3,321.9 476.7,319.6 485.0,317.5 C493.3,315.4 501.7,313.6 510.0,312.0 C518.3,310.4 526.7,308.8 535.0,307.7 C543.3,306.6 552.5,305.9 560.0,305.6 C567.5,305.3 574.7,305.6 580.0,305.9 C585.3,306.2 588.5,306.7 592.0,307.3 C595.5,307.9 598.0,308.7 601.0,309.4 C604.0,310.1 606.8,310.6 610.0,311.3 C613.2,312.0 617.0,312.9 620.0,313.8 C623.0,314.7 625.3,315.5 628.0,316.6 C630.7,317.7 633.3,318.6 636.0,320.5 C638.7,322.4 641.7,325.6 644.0,328.0 C646.3,330.4 648.0,332.9 650.0,334.6 C652.0,336.3 653.5,337.2 656.0,338.0 C658.5,338.8 661.0,339.0 665.0,339.4 C669.0,339.8 670.8,339.7 680.0,340.1 C689.2,340.5 708.5,341.2 720.0,341.6 C731.5,342.0 744.2,342.3 749.0,342.4"/>
<path d="M312.0,374.6 L749.5,373.8"/>
<path d="M312.0,406.6 L750.5,406.2"/>
</g>
<g fill="#0d0df2">
<path d="M297.2,308.8 L314.2,300.8 L314.2,316.8 Z"/>
<path d="M298,344.5 L314.8,336.8 L314.8,352.5 Z"/>
<path d="M298,374.9 L314.8,366.9 L314.8,382.9 Z"/>
<path d="M297.2,406.9 L314.2,398.9 L314.2,414.9 Z"/>
</g>
<!-- AIRFOIL -->
<path d="M348.5,391.8 L433.5,337.6 C445,331.5 465,325 485.6,320.5 C500,317.5 510,315.3 521,313.4 C535,311 546,310 556.7,310 C570,310 582,311 592,313.4 C602,315.8 610,318 617,321.6 C624,325 631,329 632,332.5 C632.5,335 630,336.5 627,337.5 L421.5,392.8 L419,392.5 Z" fill="url(#foil)" stroke="#111" stroke-width="1.1" stroke-linejoin="round"/>
<path d="M348.5,391.8 C365,389.5 382,386.5 395.6,385.6 C403,385.2 408,386 411,387.2 C415,388.8 418,391 421.3,392.5 L348.5,391.8 Z" fill="#8c8c8c" stroke="#111" stroke-width="1" stroke-linejoin="round"/>
</svg>

<div class="lbl" style="left:491.7px;top:16px;">Reduced air pressure</div>
<div class="lbl" style="left:517.5px;top:171.8px;">Constant air pressure</div>
<div class="lbl af" style="left:698.3px;top:202.9px;">Airflow</div>
<div class="lbl" style="left:488px;top:248.8px;">Reduced air pressure</div>
<div class="lbl" style="left:515.5px;top:382.1px;">Constant air pressure</div>
<div class="lbl af" style="left:694.9px;top:413.3px;">Airflow</div>
</body>
</html>
